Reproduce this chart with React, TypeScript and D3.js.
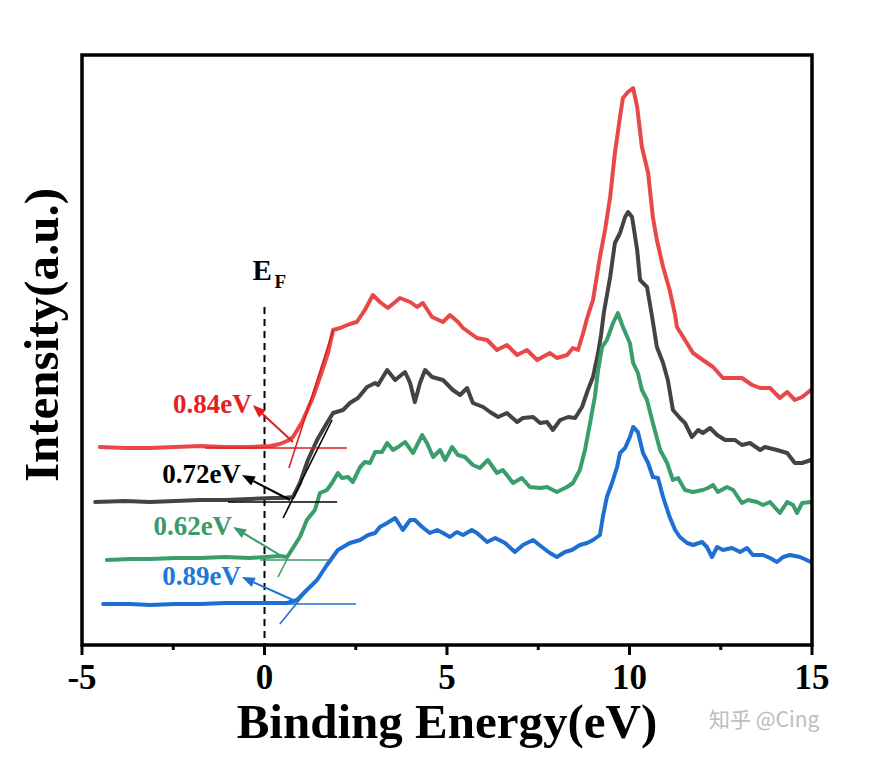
import React from 'react'
import * as d3 from 'd3'

// binding energy (eV) / intensity (a.u.)
const redEnergy = [-4.51, -3.82, -3.14, -2.45, -1.77, -1.08, -0.4, 0.16, 0.42, 0.62, 0.78, 1.03, 1.33, 1.52, 1.74, 1.88, 2.07, 2.34, 2.53, 2.75, 2.97, 3.16, 3.38, 3.58, 3.71, 3.99, 4.18, 4.34, 4.59, 4.89, 5.08, 5.3, 5.44, 5.63, 5.82, 6.1, 6.37, 6.64, 6.92, 7.19, 7.47, 7.82, 8.01, 8.29, 8.45, 8.59, 8.73, 8.84, 9.0, 9.19, 9.33, 9.47, 9.6, 9.74, 9.82, 9.96, 10.1, 10.21, 10.34, 10.51, 10.64, 10.75, 10.92, 11.1, 11.25, 11.3, 11.52, 11.74, 12.01, 12.29, 12.56, 12.84, 13.08, 13.36, 13.58, 13.85, 14.12, 14.32, 14.53, 14.73, 14.97]
const redIntensity = [198, 197, 197, 198, 199, 198, 198, 199, 201, 204, 208, 223, 248, 268, 292, 315, 317, 321, 323, 335, 350, 343, 337, 343, 347, 343, 338, 342, 328, 323, 330, 323, 317, 312, 307, 305, 295, 300, 290, 295, 285, 292, 287, 290, 297, 295, 312, 327, 345, 388, 415, 448, 492, 528, 547, 553, 557, 538, 498, 472, 428, 405, 378, 355, 330, 318, 305, 292, 285, 278, 267, 267, 267, 260, 257, 257, 247, 253, 245, 248, 255]

const blackEnergy = [-4.64, -3.82, -3.14, -2.45, -1.77, -1.08, -0.4, 0.23, 0.51, 0.78, 0.97, 1.19, 1.44, 1.71, 1.88, 2.15, 2.34, 2.56, 2.81, 3.03, 3.11, 3.36, 3.58, 3.85, 3.99, 4.12, 4.26, 4.4, 4.59, 4.89, 5.16, 5.36, 5.55, 5.71, 5.99, 6.18, 6.4, 6.64, 6.92, 7.08, 7.36, 7.55, 7.74, 7.9, 8.1, 8.32, 8.51, 8.7, 8.86, 9.0, 9.14, 9.22, 9.3, 9.47, 9.6, 9.74, 9.88, 9.96, 10.07, 10.21, 10.29, 10.48, 10.62, 10.75, 10.92, 11.05, 11.19, 11.38, 11.52, 11.71, 11.88, 12.01, 12.21, 12.4, 12.62, 12.89, 13.08, 13.3, 13.58, 13.71, 14.04, 14.32, 14.53, 14.73, 14.97]
const blackIntensity = [143, 144, 143, 144, 145, 145, 146, 147, 147, 148, 162, 185, 205, 222, 232, 235, 242, 247, 258, 262, 260, 275, 265, 273, 262, 243, 262, 275, 268, 265, 255, 250, 257, 242, 238, 233, 228, 232, 223, 227, 228, 222, 223, 215, 225, 228, 227, 238, 255, 268, 292, 310, 333, 368, 402, 412, 428, 433, 428, 395, 365, 358, 328, 298, 282, 265, 235, 227, 222, 208, 215, 212, 217, 210, 205, 205, 200, 202, 195, 198, 195, 192, 182, 182, 185]

const greenEnergy = [-4.32, -3.68, -3.14, -2.45, -1.77, -1.08, -0.4, 0.42, 0.62, 0.78, 0.97, 1.16, 1.38, 1.52, 1.71, 1.85, 2.01, 2.12, 2.29, 2.42, 2.62, 2.75, 2.89, 3.03, 3.22, 3.36, 3.52, 3.66, 3.85, 4.07, 4.32, 4.45, 4.62, 4.81, 4.95, 5.14, 5.3, 5.49, 5.71, 5.9, 6.12, 6.37, 6.53, 6.81, 7.05, 7.27, 7.55, 7.74, 8.01, 8.29, 8.45, 8.64, 8.78, 8.92, 9.05, 9.14, 9.25, 9.38, 9.55, 9.68, 9.82, 10.01, 10.1, 10.23, 10.34, 10.48, 10.64, 10.84, 11.03, 11.19, 11.33, 11.52, 11.74, 12.01, 12.15, 12.29, 12.42, 12.67, 12.84, 13.08, 13.25, 13.49, 13.66, 13.85, 14.12, 14.32, 14.48, 14.59, 14.73, 14.97]
const greenIntensity = [85, 86, 86, 87, 87, 88, 87, 89, 88, 97, 108, 125, 135, 152, 155, 162, 172, 167, 168, 163, 178, 183, 182, 193, 193, 202, 195, 198, 203, 192, 210, 202, 188, 195, 185, 198, 190, 188, 180, 177, 185, 172, 175, 162, 167, 158, 157, 158, 153, 158, 162, 175, 195, 222, 248, 275, 298, 305, 322, 332, 318, 302, 282, 272, 255, 245, 222, 195, 182, 165, 167, 155, 153, 155, 157, 160, 153, 158, 155, 142, 145, 143, 140, 143, 132, 143, 140, 132, 142, 143]

const blueEnergy = [-4.42, -3.68, -3.14, -2.45, -1.77, -1.08, -0.4, 0.62, 0.89, 1.16, 1.44, 1.71, 2.01, 2.34, 2.62, 2.84, 3.03, 3.16, 3.36, 3.58, 3.79, 3.99, 4.12, 4.32, 4.53, 4.73, 4.89, 5.08, 5.27, 5.44, 5.68, 5.82, 6.1, 6.32, 6.59, 6.86, 7.08, 7.36, 7.6, 7.82, 8.01, 8.23, 8.42, 8.64, 8.84, 9.0, 9.19, 9.27, 9.38, 9.52, 9.66, 9.74, 9.88, 10.01, 10.1, 10.23, 10.37, 10.51, 10.64, 10.78, 10.92, 11.1, 11.25, 11.38, 11.58, 11.74, 11.99, 12.12, 12.26, 12.4, 12.56, 12.81, 13.03, 13.22, 13.38, 13.66, 13.85, 14.04, 14.21, 14.4, 14.67, 14.97]
const blueIntensity = [41, 41, 40, 41, 41, 42, 42, 42, 45, 55, 65, 80, 95, 102, 105, 110, 112, 118, 122, 127, 115, 125, 125, 118, 112, 115, 112, 108, 113, 110, 115, 112, 103, 107, 102, 93, 100, 105, 98, 92, 88, 93, 95, 100, 102, 105, 110, 128, 148, 162, 178, 192, 197, 208, 218, 213, 192, 182, 168, 167, 148, 128, 115, 108, 102, 100, 103, 98, 88, 98, 95, 97, 93, 97, 90, 90, 87, 83, 88, 90, 88, 83]

// onset (valence band edge) annotations, in data units
const onsetLabels = ['0.84eV', '0.72eV', '0.62eV', '0.89eV']
const baselineLines = [[-1.63, 2.26, 197], [-1.0, 1.99, 143], [-0.12, 1.77, 85], [-0.12, 2.51, 41]]
const slopeLines = [[0.67, 177, 1.88, 315], [0.51, 127, 1.85, 225], [0.37, 68, 0.89, 105], [0.42, 21, 1.85, 85]]
const arrowLines = [[0.78, 203, -0.32, 240], [0.7, 145, -0.62, 170], [0.42, 90, -0.86, 118], [0.78, 45, -0.62, 68]]

const xMajorTicks = [-5, 0, 5, 10, 15]
const xMinorTicks = [-2.5, 2.5, 7.5, 12.5]
const fermiTop = 338

const series = [
  { id: 'red', color: '#e84848', thin: '#e01c1c', text: '#e51f1f', energy: redEnergy, intensity: redIntensity },
  { id: 'black', color: '#434343', thin: '#000000', text: '#000000', energy: blackEnergy, intensity: blackIntensity },
  { id: 'green', color: '#3a9e6c', thin: '#3f9a6c', text: '#3a9a6a', energy: greenEnergy, intensity: greenIntensity },
  { id: 'blue', color: '#1f6fd3', thin: '#1f72d0', text: '#1e78d8', energy: blueEnergy, intensity: blueIntensity },
]

const serif = '"Liberation Serif", "Times New Roman", serif'

export default function App() {
  const W = 869
  const H = 758
  const left = 82
  const right = 812
  const top = 55
  const bottom = 645

  const x = d3.scaleLinear().domain([-5, 15]).range([left, right])
  const y = d3.scaleLinear().domain([0, 590]).range([bottom, top])

  const line = d3.line<[number, number]>()
    .x(d => x(d[0]))
    .y(d => y(d[1]))

  return (
    <svg width={W} height={H} style={{ position: 'absolute', left: 0, top: 0, background: '#fff' }}>
      <rect x={0} y={0} width={W} height={H} fill="#fff" />

      {/* E_F dashed line */}
      <line x1={x(0)} x2={x(0)} y1={y(fermiTop)} y2={bottom} stroke="#000" strokeWidth={2} strokeDasharray="7,5" />
      <text x={x(0) - 12} y={280} fontFamily={serif} fontWeight="bold" fontSize={29} fill="#000">E</text>
      <text x={x(0) + 10} y={288} fontFamily={serif} fontWeight="bold" fontSize={19} fill="#000">F</text>

      {/* spectra */}
      {series.map(s => (
        <path key={s.id}
          d={line(s.energy.map((e, i) => [e, s.intensity[i]] as [number, number])) || ''}
          fill="none" stroke={s.color} strokeWidth={4} strokeLinejoin="round" strokeLinecap="round" />
      ))}

      {/* onset annotations */}
      {series.map((s, i) => {
        const [b0, b1, bv] = baselineLines[i]
        const [s0, sv0, s1, sv1] = slopeLines[i]
        const [a0, av0, a1, av1] = arrowLines[i]
        const ax0 = x(a0), ay0 = y(av0), ax1 = x(a1), ay1 = y(av1)
        const ang = Math.atan2(ay1 - ay0, ax1 - ax0)
        const len = 13, hw = 5
        const bx = ax1 - len * Math.cos(ang), by = ay1 - len * Math.sin(ang)
        const head = [
          [ax1, ay1],
          [bx + hw * Math.sin(ang), by - hw * Math.cos(ang)],
          [bx - hw * Math.sin(ang), by + hw * Math.cos(ang)],
        ].map(p => p.join(',')).join(' ')
        return (
          <g key={'ann-' + s.id}>
            <line x1={x(b0)} x2={x(b1)} y1={y(bv)} y2={y(bv)} stroke={s.thin} strokeWidth={1.6} />
            <line x1={x(s0)} y1={y(sv0)} x2={x(s1)} y2={y(sv1)} stroke={s.thin} strokeWidth={1.6} />
            <line x1={ax0} y1={ay0} x2={bx} y2={by} stroke={s.thin} strokeWidth={2} />
            <polygon points={head} fill={s.thin} />
            <text x={ax1 - 1} y={ay1 + 8} textAnchor="end" fontFamily={serif} fontWeight="bold" fontSize={27} fill={s.text}>
              {onsetLabels[i]}
            </text>
          </g>
        )
      })}

      {/* frame */}
      <rect x={left} y={top} width={right - left} height={bottom - top} fill="none" stroke="#000" strokeWidth={3.5} />

      {/* x ticks */}
      {xMajorTicks.map(t => (
        <g key={'M' + t}>
          <line x1={x(t)} x2={x(t)} y1={bottom} y2={bottom + 10} stroke="#000" strokeWidth={3} />
          <text x={x(t)} y={689} textAnchor="middle" fontFamily={serif} fontWeight="bold" fontSize={35} fill="#000">{t}</text>
        </g>
      ))}
      {xMinorTicks.map(t => (
        <line key={'m' + t} x1={x(t)} x2={x(t)} y1={bottom} y2={bottom + 5} stroke="#000" strokeWidth={3} />
      ))}

      {/* axis titles */}
      <text x={(left + right) / 2} y={738} textAnchor="middle" fontFamily={serif} fontWeight="bold" fontSize={49} fill="#000">
        Binding Energy(eV)
      </text>
      <text transform="translate(58,335) rotate(-90)" textAnchor="middle" fontFamily={serif} fontWeight="bold" fontSize={49} fill="#000">
        Intensity(a.u.)
      </text>

      {/* watermark */}
      <text x={709} y={727} fontFamily='"Noto Sans CJK SC", "Noto Sans", sans-serif' fontSize={21} fill="#bdbdbd">
        知乎 @Cing
      </text>
    </svg>
  )
}
